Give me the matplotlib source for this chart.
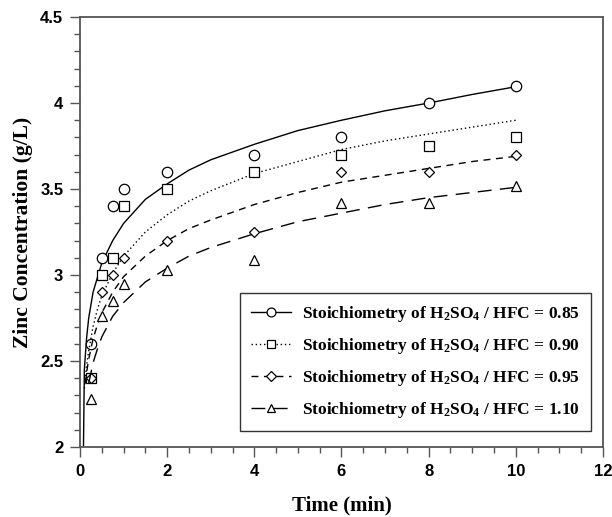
import matplotlib.pyplot as plt
from matplotlib.ticker import MultipleLocator
import numpy as np

plt.rcParams['mathtext.fontset'] = 'custom'
plt.rcParams['mathtext.rm'] = 'Liberation Serif:bold'
plt.rcParams['mathtext.it'] = 'Liberation Serif:bold'
plt.rcParams['mathtext.bf'] = 'Liberation Serif:bold'

# measured points
time = [0.25, 0.5, 0.75, 1, 2, 4, 6, 8, 10]
zn_085 = [2.6, 3.1, 3.4, 3.5, 3.6, 3.7, 3.8, 4.0, 4.1]
zn_090 = [2.4, 3.0, 3.1, 3.4, 3.5, 3.6, 3.7, 3.75, 3.8]
zn_095 = [2.4, 2.9, 3.0, 3.1, 3.2, 3.25, 3.6, 3.6, 3.7]
zn_110 = [2.28, 2.76, 2.85, 2.95, 3.03, 3.09, 3.42, 3.42, 3.52]

# fitted curves
fit_x_085 = [0.08, 0.1, 0.15, 0.2, 0.3, 0.5, 0.75, 1, 1.5, 2, 2.5, 3, 4, 5, 6, 7, 8, 9, 10]
fit_y_085 = [2.0, 2.45, 2.63, 2.75, 2.9, 3.07, 3.2, 3.3, 3.44, 3.53, 3.61, 3.67, 3.76, 3.84, 3.9, 3.955, 4.0, 4.05, 4.095]
fit_x_090 = [0.1, 0.15, 0.2, 0.3, 0.4, 0.5, 0.75, 1, 1.5, 2, 2.5, 3, 4, 5, 6, 7, 8, 9, 10]
fit_y_090 = [2.34, 2.47, 2.56, 2.7, 2.8, 2.88, 3.01, 3.11, 3.25, 3.35, 3.43, 3.49, 3.59, 3.66, 3.73, 3.78, 3.82, 3.86, 3.9]
fit_x_095 = [0.12, 0.15, 0.2, 0.3, 0.4, 0.5, 0.75, 1, 1.5, 2, 2.5, 3, 4, 5, 6, 7, 8, 9, 10]
fit_y_095 = [2.37, 2.43, 2.51, 2.63, 2.71, 2.78, 2.9, 2.99, 3.11, 3.2, 3.27, 3.32, 3.41, 3.48, 3.54, 3.58, 3.62, 3.66, 3.69]
fit_x_110 = [0.2, 0.3, 0.4, 0.5, 0.75, 1, 1.5, 2, 2.5, 3, 4, 5, 6, 7, 8, 9, 10]
fit_y_110 = [2.37, 2.49, 2.57, 2.64, 2.76, 2.84, 2.96, 3.04, 3.11, 3.16, 3.24, 3.31, 3.36, 3.41, 3.45, 3.48, 3.51]

labels = ['0.85', '0.90', '0.95', '1.10']

fig = plt.figure(figsize=(6.12, 5.17), dpi=100)
ax = fig.add_axes([0.1307, 0.1354, 0.8546, 0.8316])

series = [
    (fit_x_085, fit_y_085, zn_085, 'o', '-'),
    (fit_x_090, fit_y_090, zn_090, 's', (0, (1, 2))),
    (fit_x_095, fit_y_095, zn_095, 'D', (0, (5, 4))),
    (fit_x_110, fit_y_110, zn_110, '^', (0, (10, 6))),
]
msize = {'o': 7.5, 's': 7.5, 'D': 5.5, '^': 7.5}

handles = []
for (fx, fy, ys, m, ls), lab in zip(series, labels):
    ax.plot(fx, fy, color='black', lw=1, linestyle=ls)
    ax.plot(time, ys, linestyle='none', marker=m, ms=msize[m],
            mfc='white', mec='black', mew=0.9)
    h, = ax.plot([], [], color='black', lw=1, linestyle=ls, marker=m,
                 ms=msize[m] * 0.85, mfc='white', mec='black', mew=0.9)
    handles.append(h)

leg_labels = ['Stoichiometry of H$_2$SO$_4$ / HFC = ' + l for l in labels]
leg = ax.legend(handles, leg_labels, loc='lower right', bbox_to_anchor=(0.993, 0.017),
                frameon=True, fancybox=False, edgecolor='black', handlelength=2.3,
                handletextpad=0.6, labelspacing=0.68, borderpad=0.65,
                prop={'family': 'Liberation Serif', 'weight': 'bold', 'size': 12.5})
leg.get_frame().set_linewidth(1.0)

ax.set_xlim(0, 12)
ax.set_ylim(2, 4.5)
ax.xaxis.set_major_locator(MultipleLocator(2))
ax.xaxis.set_minor_locator(MultipleLocator(0.5))
ax.yaxis.set_major_locator(MultipleLocator(0.5))
ax.yaxis.set_minor_locator(MultipleLocator(0.1))
ax.set_yticks([2, 2.5, 3, 3.5, 4, 4.5])
ax.set_yticklabels(['2', '2.5', '3', '3.5', '4', '4.5'])

for sp in ax.spines.values():
    sp.set_color('#555555')
    sp.set_linewidth(1.3)
ax.tick_params(which='both', direction='out', color='#555555', width=1)
ax.tick_params(which='major', length=7, labelsize=12, pad=5)
ax.tick_params(which='minor', length=4)
for t in ax.get_xticklabels() + ax.get_yticklabels():
    t.set_fontfamily('Liberation Sans')
    t.set_fontweight('bold')

ax.set_xlabel('Time (min)', family='Liberation Serif', weight='bold', size=15, labelpad=12)
ax.set_ylabel('Zinc Concentration (g/L)', family='Liberation Serif', weight='bold', size=15.5, labelpad=5)

fig.savefig('out.png', dpi=100)
